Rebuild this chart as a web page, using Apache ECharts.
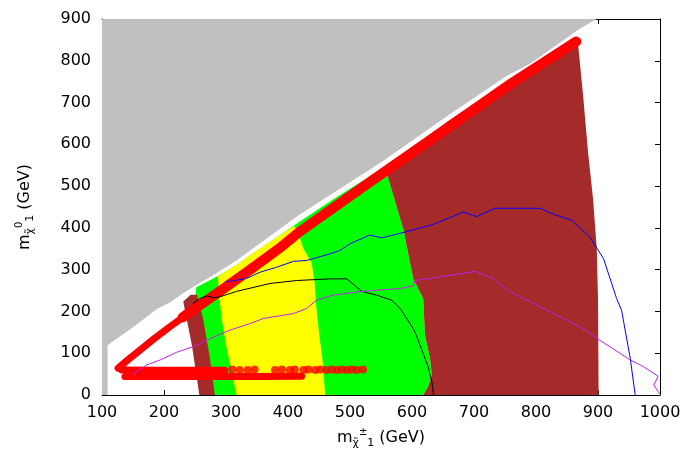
<!DOCTYPE html>
<html><head><meta charset="utf-8">
<script src="https://cdn.jsdelivr.net/npm/echarts@6/dist/echarts.min.js"></script>
<style>html,body{margin:0;padding:0;background:#fff}#c{width:684px;height:454px}</style>
</head><body><div id="c"></div>
<script>
// ---- data (GeV) ----
const xRange = [100, 1000];
const yRange = [0, 900];
const greyRegion = [[100,0],[109,0],[109,119],[150,162],[188,205],[210,222],[232,245],[253,264],[285,292],[317,322],[339,346],[419,432],[551,558],[661,672],[753,764],[790,792],[871,877],[898,900],[100,900]];
const greenRegion = [[252,258],[285,283],[317,311],[339,335],[380,375],[419,415],[480,475],[556,546],[562,517],[586,397],[602,278],[618,231],[621,143],[629,88],[632,48],[626,20],[618,0],[268,0],[258,200],[251,240]];
const yellowRegion = [[287,284],[317,311],[339,335],[380,375],[410,405],[417,385],[425,350],[438,318],[443,270],[445,220],[450,150],[456,80],[460,0],[317,0],[310,50],[300,120],[293,183],[288,250]];
const brownRegion = [[556,546],[661,658],[760,757],[867,853],[876,716],[884,580],[892,470],[898,350],[900,230],[901,0],[618,0],[626,20],[632,48],[629,88],[621,143],[618,231],[602,278],[586,397],[562,517]];
const brownStrip = [[231,224],[243,240],[253,240],[263,183],[274,88],[282,0],[257,0],[245,119]];
const redDiagLow = [[126,64],[140,82],[160,106],[185,136],[210,164],[240,196]];
const redDiagHigh = [[230,186],[258,215],[300,259],[339,300],[385,350],[419,391],[480,455],[540,518],[661,643],[760,746],[865,846]];
const redRowA = [[132,60],[200,59],[298,59]];
const redRowADots = [[310,61],[322,60],[335,60],[346,61],[379,60],[390,61],[403,60],[411,61],[425,60],[433,61],[444,60],[452,61],[462,60],[471,61],[479,60],[487,61],[495,60],[503,61],[511,60],[521,61]];
const redRowB = [[137,44],[250,44],[350,44],[422,45]];
const blueLine = [[301,271],[333,279],[355,294],[380,305],[409,320],[430,322],[468,338],[484,346],[500,362],[532,383],[551,376],[589,390],[634,408],[683,438],[704,427],[734,447],[806,447],[833,430],[857,419],[887,378],[909,326],[930,231],[938,203],[952,88],[960,0]];
const blackLine = [[247,219],[258,231],[269,237],[280,233],[290,235],[317,248],[371,267],[414,274],[468,278],[495,278],[519,248],[543,239],[567,227],[581,207],[602,159],[607,143],[626,68],[632,32],[635,0]];
const magentaLine = [[150,49],[172,72],[194,84],[220,102],[253,119],[274,135],[306,155],[339,171],[360,183],[409,195],[430,207],[446,227],[473,239],[519,248],[581,255],[602,261],[605,274],[624,278],[677,290],[702,296],[731,278],[758,247],[780,231],[823,199],[871,163],[903,131],[952,84],[973,68],[997,45],[990,24],[997,8],[1000,2]];

const FONT = 'DejaVu Sans';
function poly(name, pts, color) {
  return {
    type: 'custom', name, coordinateSystem: 'cartesian2d', silent: true,
    data: pts, encode: {x: 0, y: 1},
    renderItem: function (params, api) {
      if (params.dataIndex !== 0) return null;
      const points = pts.map(p => api.coord(p));
      return {type: 'polygon', shape: {points}, style: {fill: color, stroke: null}};
    }
  };
}
function line(name, pts, color, width) {
  return {type: 'line', name, data: pts, symbol: 'none', silent: true,
    lineStyle: {color, width, cap: 'round', join: 'round'}};
}
const rich = {
  m: {fontSize: 16, fontFamily: FONT, lineHeight: 22, color: '#000'},
  s: {fontSize: 11, fontFamily: FONT, lineHeight: 12, verticalAlign: 'bottom', color: '#000'},
  p: {fontSize: 10, fontFamily: FONT, lineHeight: 12, verticalAlign: 'top', color: '#000'},
  n: {fontSize: 16, fontFamily: FONT, lineHeight: 22, color: '#000'}
};
const axisCommon = {
  axisLine: {show: true, onZero: false, lineStyle: {color: '#000', width: 1}},
  axisTick: {show: true, inside: true, length: 5, lineStyle: {color: '#000'}},
  splitLine: {show: false}
};
const labelStyle = {color: '#000', fontFamily: FONT, fontSize: 16, formatter: v => String(v)};
const chart = echarts.init(document.getElementById('c'));
chart.setOption({
  animation: false,
  backgroundColor: '#fff',
  grid: {left: 102, right: 24, top: 19, bottom: 57},
  xAxis: [
    Object.assign({type: 'value', min: xRange[0], max: xRange[1], interval: 100, position: 'bottom',
      axisLabel: Object.assign({margin: 10}, labelStyle),
      name: '{m|m}{s|χ̃}{p|±}{s|1}{n| (GeV)}', nameLocation: 'middle', nameGap: 32,
      nameTextStyle: {rich}}, axisCommon),
    Object.assign({type: 'value', min: xRange[0], max: xRange[1], interval: 100, position: 'top',
      axisLabel: {show: false}}, axisCommon)
  ],
  yAxis: [
    Object.assign({type: 'value', min: yRange[0], max: yRange[1], interval: 100, position: 'left',
      axisLabel: Object.assign({margin: 11}, labelStyle),
      name: '{m|m}{s|χ̃}{p|0}{s|1}{n| (GeV)}', nameLocation: 'middle', nameGap: 66, nameRotate: 90,
      nameTextStyle: {rich}}, axisCommon),
    Object.assign({type: 'value', min: yRange[0], max: yRange[1], interval: 100, position: 'right',
      axisLabel: {show: false}}, axisCommon)
  ],
  series: [
    poly('grey', greyRegion, '#c0c0c0'),
    poly('green', greenRegion, '#00ff00'),
    poly('yellow', yellowRegion, '#ffff00'),
    poly('brown', brownRegion, '#a52a2a'),
    poly('brownStrip', brownStrip, '#a52a2a'),
    line('redDiagLow', redDiagLow, '#ff0000', 7),
    line('redDiagHigh', redDiagHigh, '#ff0000', 10),
    line('redRowA', redRowA, '#ff0000', 7),
    {type: 'scatter', name: 'redRowADots', data: redRowADots, symbol: 'circle', symbolSize: 8, silent: true,
      itemStyle: {color: '#ff0000'}},
    line('redRowB', redRowB, '#ff0000', 7),
    line('blue', blueLine, '#0000ff', 1),
    line('black', blackLine, '#000000', 1),
    line('magenta', magentaLine, '#c020f0', 1)
  ]
});
</script></body></html>
